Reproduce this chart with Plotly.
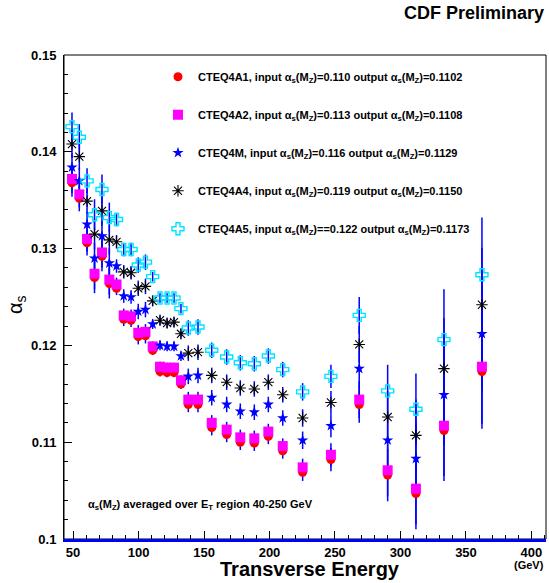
import plotly.graph_objects as go

# Transverse energy bin centres (GeV)
et = [49.2, 54.8, 60.7, 66.4, 72.1, 77.7, 83.2, 88.7, 94.3, 99.8,
      105.3, 110.8, 116.4, 121.8, 127.1, 132.4, 138.0, 145.4, 155.9, 167.3,
      177.7, 188.4, 199.1, 210.1, 225.3, 246.9, 268.5, 290.2, 311.8, 333.2, 362.2]

a1 = [0.1368, 0.1352, 0.1306, 0.1270, 0.1292, 0.1264, 0.1259, 0.1227, 0.1226, 0.1209,
      0.1210, 0.1195, 0.1173, 0.1172, 0.1172, 0.1160, 0.1139, 0.1139, 0.1115, 0.1108,
      0.1100, 0.1099, 0.1106, 0.1091, 0.1069, 0.1082, 0.1139, 0.1066, 0.1047, 0.1112, 0.1173]

a2 = [0.1372, 0.1356, 0.1310, 0.1274, 0.1296, 0.1268, 0.1263, 0.1231, 0.1230, 0.1213,
      0.1214, 0.1199, 0.1178, 0.1177, 0.1177, 0.1164, 0.1144, 0.1144, 0.1120, 0.1113,
      0.1105, 0.1104, 0.1111, 0.1096, 0.1074, 0.1087, 0.1144, 0.1071, 0.1052, 0.1117, 0.1178]

m4 = [0.1384, 0.1370, 0.1325, 0.1290, 0.1313, 0.1285, 0.1282, 0.1251, 0.1250, 0.1235,
      0.1237, 0.1222, 0.1200, 0.1199, 0.1199, 0.1189, 0.1168, 0.1169, 0.1146, 0.1139,
      0.1132, 0.1131, 0.1139, 0.1125, 0.1102, 0.1117, 0.1176, 0.1102, 0.1083, 0.1149, 0.1212]

a4 = [0.1408, 0.1395, 0.1349, 0.1315, 0.1339, 0.1309, 0.1307, 0.1276, 0.1275, 0.1259,
      0.1261, 0.1246, 0.1226, 0.1223, 0.1224, 0.1212, 0.1192, 0.1193, 0.1169, 0.1162,
      0.1156, 0.1155, 0.1162, 0.1149, 0.1125, 0.1141, 0.1201, 0.1126, 0.1107, 0.1176, 0.1242]

a5 = [0.1426, 0.1415, 0.1370, 0.1335, 0.1361, 0.1332, 0.1330, 0.1299, 0.1299, 0.1283,
      0.1286, 0.1271, 0.1249, 0.1249, 0.1249, 0.1238, 0.1218, 0.1219, 0.1195, 0.1188,
      0.1182, 0.1181, 0.1189, 0.1175, 0.1152, 0.1168, 0.1231, 0.1153, 0.1134, 0.1206, 0.1273]

err = [0.00145, 0.00135, 0.0013, 0.0016, 0.00155, 0.00155, 0.0007, 0.0007, 0.0007, 0.0008,
       0.0008, 0.0005, 0.0005, 0.0005, 0.0005, 0.0005, 0.0008, 0.0008, 0.0008, 0.0008,
       0.0008, 0.0008, 0.0008, 0.0008, 0.0009, 0.0012, 0.0019, 0.0027, 0.0037, 0.0052, 0.0059]

names = [
    "CTEQ4A1, input α<sub>s</sub>(M<sub>Z</sub>)=0.110 output α<sub>s</sub>(M<sub>Z</sub>)=0.1102",
    "CTEQ4A2, input α<sub>s</sub>(M<sub>Z</sub>)=0.113 output α<sub>s</sub>(M<sub>Z</sub>)=0.1108",
    "CTEQ4M, input α<sub>s</sub>(M<sub>Z</sub>)=0.116 output α<sub>s</sub>(M<sub>Z</sub>)=0.1129",
    "CTEQ4A4, input α<sub>s</sub>(M<sub>Z</sub>)=0.119 output α<sub>s</sub>(M<sub>Z</sub>)=0.1150",
    "CTEQ4A5, input α<sub>s</sub>(M<sub>Z</sub>)==0.122 output α<sub>s</sub>(M<sub>Z</sub>)=0.1173",
]

xticks = [50, 100, 150, 200, 250, 300, 350, 400]
yticks = [0.10, 0.11, 0.12, 0.13, 0.14, 0.15]
ytext = ["0.1", "0.11", "0.12", "0.13", "0.14", "0.15"]

series = [a1, a2, m4, a4, a5]
markers = [
    dict(symbol="circle", size=9, color="#ff0000", line=dict(width=0)),
    dict(symbol="square", size=10, color="#ff00ff", line=dict(width=0)),
    dict(symbol="star", size=8.5, color="#0000ff", line=dict(width=0)),
    dict(symbol="asterisk-open", size=9.5, color="#000000", line=dict(width=1.1, color="#000000")),
    dict(symbol="cross-open", size=10, color="#00e5ff", line=dict(width=1.4, color="#00e5ff")),
]

FONT = "Liberation Sans, Arial, sans-serif"

fig = go.Figure()

# error bars first (all drawn in blue), markers on top
for vals in series:
    fig.add_trace(go.Scatter(
        x=et, y=vals, mode="markers",
        marker=dict(size=1, opacity=0),
        error_y=dict(type="data", array=err, color="#0000ff", thickness=1.5, width=0),
        showlegend=False, hoverinfo="skip"))

for i, (vals, mk, nm) in enumerate(zip(series, markers, names)):
    fig.add_trace(go.Scatter(
        x=et, y=vals, mode="markers", marker=mk, name=nm,
        legendgroup=f"g{i}"))

fig.update_layout(
    width=549, height=583,
    margin=dict(l=64, r=3, t=55, b=44),
    paper_bgcolor="white", plot_bgcolor="white",
    font=dict(family=FONT, color="black"),
    showlegend=True,
    legend=dict(
        x=0.195, y=0.985, xanchor="left", yanchor="top",
        bgcolor="rgba(0,0,0,0)", borderwidth=0,
        font=dict(family=FONT, size=11, weight="bold"),
        traceorder="grouped", tracegroupgap=19,
        itemwidth=30,
    ),
    xaxis=dict(
        range=[43.1, 411.1], tickvals=xticks, ticktext=[str(v) for v in xticks],
        ticks="inside", ticklen=8, tickcolor="black", tickwidth=1,
        minor=dict(dtick=10, tick0=0, ticks="inside", ticklen=4, tickcolor="black"),
        showgrid=False, zeroline=False,
        showline=True, linecolor="#0000ff", linewidth=2.5, mirror=False,
        tickfont=dict(family=FONT, size=13, weight="bold"),
    ),
    yaxis=dict(
        range=[0.1, 0.15], tickvals=yticks, ticktext=ytext,
        ticks="inside", ticklen=8, tickcolor="black", tickwidth=1,
        minor=dict(dtick=0.002, tick0=0.1, ticks="inside", ticklen=4, tickcolor="black"),
        showgrid=False, zeroline=False,
        showline=True, linecolor="black", linewidth=1, mirror=False,
        tickfont=dict(family=FONT, size=13, weight="bold"),
        ticklabelstandoff=4,
    ),
    shapes=[
        dict(type="rect", xref="paper", yref="paper", x0=0, y0=0, x1=1, y1=1,
             line=dict(color="black", width=1), layer="below"),
    ],
    annotations=[
        dict(text="<b>CDF Preliminary</b>", xref="paper", yref="paper",
             x=1.0, y=1.0, yshift=55 - 13, xanchor="right", yanchor="middle",
             showarrow=False, font=dict(family=FONT, size=18)),
        dict(text="<b>Transverse Energy</b>", xref="paper", yref="paper",
             x=(310 - 64) / 482, y=0, yshift=-30, xanchor="center", yanchor="middle",
             showarrow=False, font=dict(family=FONT, size=20)),
        dict(text="<b>(GeV)</b>", xref="paper", yref="paper",
             x=1.0, y=0, yshift=-26, xanchor="right", yanchor="middle",
             showarrow=False, font=dict(family=FONT, size=11)),
        dict(text="α<sub>s</sub>", xref="paper", yref="paper",
             x=0, xshift=-48, y=(539 - 305) / 484, xanchor="center", yanchor="middle",
             textangle=-90, showarrow=False, font=dict(family=FONT, size=20)),
        dict(text="<b>α<sub>s</sub>(M<sub>Z</sub>) averaged over E<sub>T</sub> region 40-250 GeV</b>",
             xref="paper", yref="paper",
             x=(86 - 64) / 482, y=(539 - 505) / 484, xanchor="left", yanchor="middle",
             showarrow=False, font=dict(family=FONT, size=11)),
    ],
)

fig.write_html(
    "out.html",
    config={"displayModeBar": False},
    post_script="document.body.style.margin='0';document.body.style.overflow='hidden';",
)
